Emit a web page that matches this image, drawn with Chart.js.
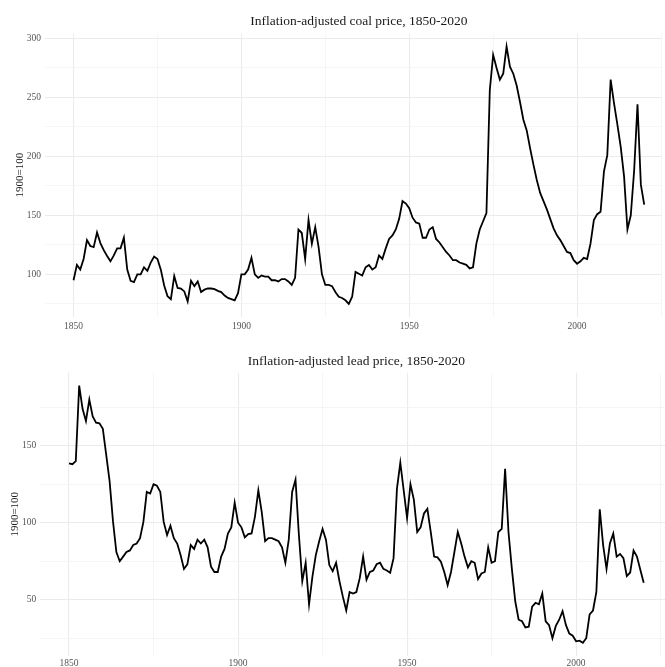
<!DOCTYPE html>
<html><head><meta charset="utf-8">
<script src="https://cdn.jsdelivr.net/npm/chart.js@4/dist/chart.umd.min.js"></script>
<style>
html,body{margin:0;padding:0;background:#fff;overflow:hidden;}
#w1{position:absolute;left:0;top:0;width:665px;height:340px;}
#w2{position:absolute;left:0;top:340px;width:665px;height:327px;}
</style></head><body>
<div id="w1"><canvas id="c1"></canvas></div>
<div id="w2"><canvas id="c2"></canvas></div>
<script>
const startYear = 1850;
const coalTitle = "Inflation-adjusted coal price, 1850-2020";
const leadTitle = "Inflation-adjusted lead price, 1850-2020";
const yAxisTitle = "1900=100";

const coalValues = [
  95,108,104,113,129,124,123,135.5,126.5,120.5,
  115.5,111,116,122,122,131,104,94.5,93.5,100,
  100,106,103,110,115,113,104,90.5,81.5,79,
  98.5,88.5,88,85.5,77,94.5,90,94,85,87,
  88,88,87.5,86,85,82,80,79,78,84,
  100,100,104,114,100,97,99,98,98,95,
  95,94,96,96,94,91,97,138,135,113,
  146,126,140,123,100,91,91,90,85,81,
  80,78,75,81,102,100.5,99,106,108,104,
  106,116,113,122,130,133,138,147,162,160,
  156,148,144,143,131,131,138,140,130,127,
  123,119,116,112,112,110,109,108,105,106,
  126,138,145,152,256,286,275,265,270,293,
  276,270,260,246,231,222,207,193,180,169,
  162,155,147,139,133,129,124,119,118,112,
  109,111,114,113,126,146,151,153,187,201,
  265,245,227,208,183,138,150,188,244,176,
  159
];

const leadValues = [
  138.5,138,140,189,174,166,180,169,165,164.5,
  161,144,127,101,81,75,78,81,82,85.5,
  86.5,90,100.5,120,119,125,124,120,100.5,92,
  98,90,86.5,79,70,73,85.5,83,89,86.5,
  89,84,71.5,68,68,78,83,93,97,113,
  100,97,90.5,92.6,93,104,121,107,88,90,
  90,89,88,84,74,89,120,128,92,62,
  74,47,65,79,88,96,89,72.5,68.6,74,
  62,52,43,55,54,55,64,78,63,68,
  69,73,74,70,69,67.5,77,122,139,121,
  103,125,115,94,97,106,109,94,78,77.5,
  74.7,68,59.5,68,81,94,86.6,78,71,75,
  74,63.4,67,68,84,74,75,94,96,135,
  94,70,49,37,36,32,32.5,45.5,48,47,
  54,36,33.5,25,33,37,42.6,33.5,28,26.6,
  23,23.4,22,25,40.5,43,55,108.7,85.5,70,
  86.6,93,78,79.7,77,65.4,67.7,82,78,69.5,
  61
];

const xGridYears = [1850,1875,1900,1925,1950,1975,2000,2025];
const xLabelYears = [1850,1900,1950,2000];
const coalYGrid = [75,100,125,150,175,200,225,250,275,300];
const coalYLabels = [100,150,200,250,300];
const leadYGrid = [25,50,75,100,125,150,175];
const leadYLabels = [50,100,150];

const FONT = '"Liberation Serif", "Times New Roman", serif';

function toPoints(values){
  return values.map((v,i)=>({x: startYear + i, y: v}));
}

function makeChart(canvasId, values, title, yGrid, yLabels, g){
  const titlePlugin = {
    id: 'panelTitle',
    afterDraw(chart){
      const c = chart.ctx;
      const xs = chart.scales.x;
      c.save();
      c.font = '13.5px ' + FONT;
      c.fillStyle = '#1a1a1a';
      c.textAlign = 'center';
      c.textBaseline = 'middle';
      c.fillText(title, xs.getPixelForValue(g.titleCenterX), g.titleY);
      c.restore();
    }
  };
  return new Chart(document.getElementById(canvasId), {
    type: 'line',
    data: { datasets: [{
      data: toPoints(values),
      borderColor: '#000',
      borderWidth: 1.8,
      pointRadius: 0,
      tension: 0,
      fill: false
    }]},
    options: {
      responsive: true,
      maintainAspectRatio: false,
      animation: false,
      devicePixelRatio: 1,
      layout: { padding: { top: g.padTop, left: 0, right: 0, bottom: 0 } },
      plugins: { legend: {display:false}, title: {display:false}, tooltip: {enabled:false} },
      scales: {
        x: {
          type: 'linear',
          min: g.xMin, max: g.xMax,
          afterBuildTicks: s => { s.ticks = xGridYears.map(v=>({value:v})); },
          afterFit: s => { s.height = g.xAxisH; },
          border: { display: false },
          grid: {
            drawTicks: false,
            color: ctx => xLabelYears.includes(ctx.tick && ctx.tick.value) ? '#ebebeb' : '#f3f3f3',
            lineWidth: ctx => xLabelYears.includes(ctx.tick && ctx.tick.value) ? 1.1 : 0.8
          },
          ticks: {
            autoSkip: false, maxRotation: 0, padding: g.xTickPad,
            color: '#555', font: { family: FONT, size: 9.5 },
            callback: v => xLabelYears.includes(v) ? String(v) : ''
          }
        },
        y: {
          type: 'linear',
          min: g.yMin, max: g.yMax,
          afterBuildTicks: s => { s.ticks = yGrid.map(v=>({value:v})); },
          afterFit: s => { s.width = g.left; },
          border: { display: false },
          grid: {
            drawTicks: false,
            color: ctx => yLabels.includes(ctx.tick && ctx.tick.value) ? '#ebebeb' : '#f3f3f3',
            lineWidth: ctx => yLabels.includes(ctx.tick && ctx.tick.value) ? 1.1 : 0.8
          },
          ticks: {
            autoSkip: false, padding: 4,
            color: '#555', font: { family: FONT, size: 9.5 },
            callback: v => yLabels.includes(v) ? String(v) : ''
          },
          title: {
            display: true, text: yAxisTitle,
            color: '#1a1a1a', font: { family: FONT, size: 11 },
            padding: { top: g.yTitlePad, bottom: 0 }
          }
        }
      }
    },
    plugins: [titlePlugin]
  });
}

makeChart('c1', coalValues, coalTitle, coalYGrid, coalYLabels, {
  padTop: 33.7, left: 45, xAxisH: 23.3, xTickPad: 4,
  xMin: 1841.5, xMax: 2025, yMin: 64.1, yMax: 303.9,
  titleCenterX: 1935, titleY: 21, yTitlePad: 14
});
makeChart('c2', leadValues, leadTitle, leadYGrid, leadYLabels, {
  padTop: 32.8, left: 40.3, xAxisH: 11.3, xTickPad: 2.5,
  xMin: 1841.5, xMax: 2026.3, yMin: 13.65, yMax: 197.35,
  titleCenterX: 1935, titleY: 21, yTitlePad: 9
});
</script>
</body></html>
